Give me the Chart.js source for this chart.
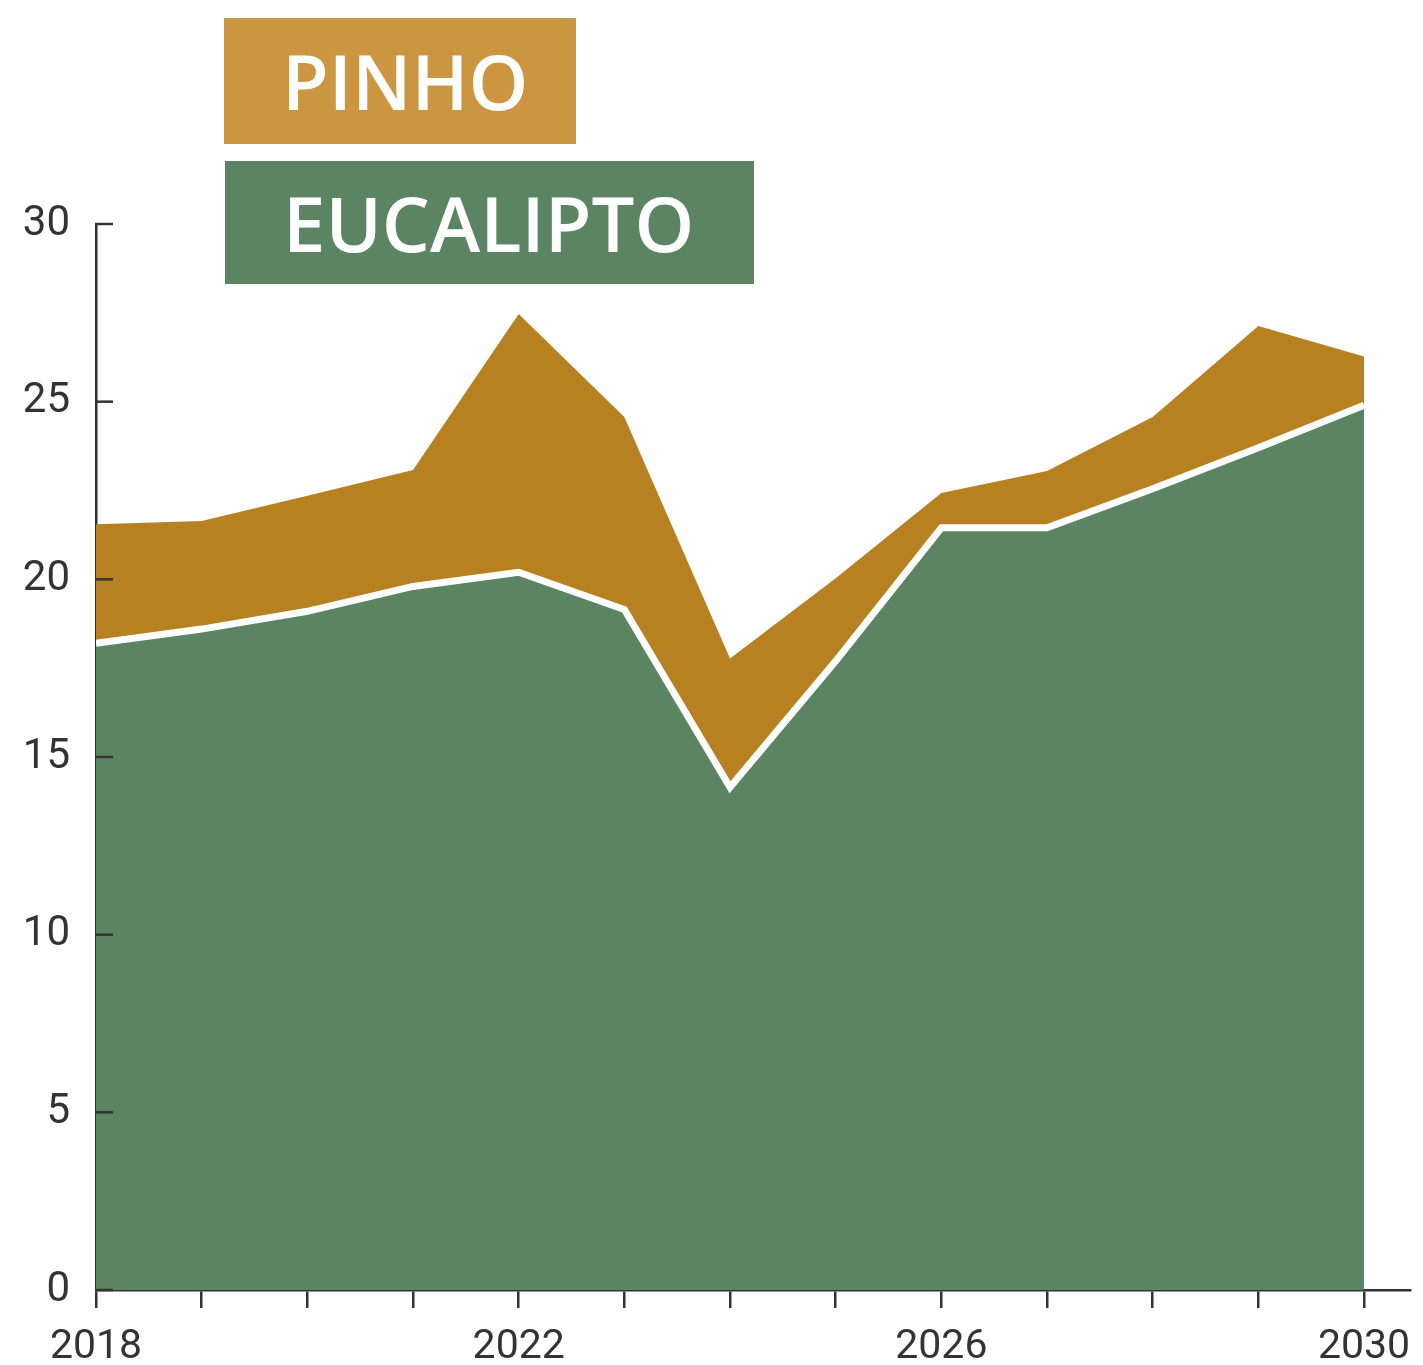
<!DOCTYPE html>
<html>
<head>
<meta charset="utf-8">
<script src="https://cdn.jsdelivr.net/npm/chart.js@4/dist/chart.umd.min.js"></script>
<style>
  html, body { margin: 0; padding: 0; background: #ffffff; }
  #wrap { position: relative; width: 1423px; height: 1365px; }
  #wrap canvas { position: absolute; left: 0; top: 0; }
  .lg { position: absolute; color: #ffffff; font-family: "Open Sans", sans-serif; font-weight: 600;
        font-size: 76px; line-height: 1; display: flex; align-items: center; box-sizing: border-box; padding-left: 58px; }
</style>
</head>
<body>
<div id="wrap">
  <canvas id="c" width="1423" height="1365"></canvas>
  <div class="lg" id="lgPinho" style="left:224px;top:18px;width:352px;height:126px;background:#CB963F;">PINHO</div>
  <div class="lg" id="lgEuc" style="left:225px;top:161px;width:529px;height:123px;background:#5B8562;">EUCALIPTO</div>
</div>
<script>
// ---- data ----
const years = [2018, 2019, 2020, 2021, 2022, 2023, 2024, 2025, 2026, 2027, 2028, 2029, 2030];
const eucalipto = [18.2, 18.6, 19.1, 19.8, 20.2, 19.15, 14.15, 17.7, 21.45, 21.45, 22.55, 23.7, 24.9];
const pinho = [3.35, 3.04, 3.25, 3.28, 7.27, 5.42, 3.62, 2.33, 0.98, 1.6, 2.02, 3.43, 1.37];
const xLabelYears = [2018, 2022, 2026, 2030];
const yTicks = [0, 5, 10, 15, 20, 25, 30];

const seriesNames = ["EUCALIPTO", "PINHO"];
const axisColor = "#333333";

const yInwardTicks = {
  id: "yInwardTicks",
  afterDraw(chart) {
    const ctx = chart.ctx;
    const y = chart.scales.y;
    const x0 = chart.chartArea.left;
    ctx.save();
    ctx.strokeStyle = axisColor;
    ctx.lineWidth = 2.5;
    yTicks.forEach(v => {
      const py = y.getPixelForValue(v);
      ctx.beginPath();
      ctx.moveTo(x0 - 1, py);
      ctx.lineTo(x0 + 17, py);
      ctx.stroke();
    });
    ctx.restore();
  }
};

new Chart(document.getElementById("c"), {
  type: "line",
  data: {
    datasets: [
      {
        label: seriesNames[0],
        data: years.map((yr, i) => ({ x: yr, y: eucalipto[i] })),
        backgroundColor: "#5B8562",
        borderColor: "#ffffff",
        borderWidth: 7,
        borderJoinStyle: "miter",
        fill: "origin",
        pointRadius: 0,
        tension: 0
      },
      {
        label: seriesNames[1],
        data: years.map((yr, i) => ({ x: yr, y: pinho[i] })),
        backgroundColor: "#B78020",
        borderWidth: 0,
        fill: "-1",
        pointRadius: 0,
        tension: 0
      }
    ]
  },
  options: {
    responsive: false,
    animation: false,
    devicePixelRatio: 1,
    layout: { padding: { top: 224, right: 13, left: 0, bottom: 0 } },
    plugins: { legend: { display: false }, tooltip: { enabled: false } },
    scales: {
      x: {
        type: "linear",
        min: 2018,
        max: 2030.435,
        afterBuildTicks(scale) { scale.ticks = years.map(v => ({ value: v })); },
        afterFit(scale) { scale.height = 75; scale.paddingLeft = 0; scale.paddingRight = 0; },
        grid: { display: true, drawOnChartArea: false, drawTicks: true, tickLength: 18, color: axisColor, lineWidth: 2.5 },
        border: { display: true, color: axisColor, width: 2.5 },
        ticks: {
          autoSkip: false, maxRotation: 0, padding: 15,
          color: "#333333",
          font: { family: "Roboto", size: 41 },
          callback: (v) => xLabelYears.includes(v) ? String(v) : ""
        }
      },
      y: {
        stacked: true,
        min: 0, max: 30,
        afterBuildTicks(scale) { scale.ticks = yTicks.map(v => ({ value: v })); },
        afterFit(scale) { scale.width = 96; scale.paddingTop = 0; scale.paddingBottom = 0; },
        grid: { display: false },
        border: { display: true, color: axisColor, width: 2.5 },
        ticks: {
          padding: 18,
          color: "#333333",
          font: { family: "Roboto", size: 42 }
        }
      }
    }
  },
  plugins: [yInwardTicks]
});
</script>
</body>
</html>
